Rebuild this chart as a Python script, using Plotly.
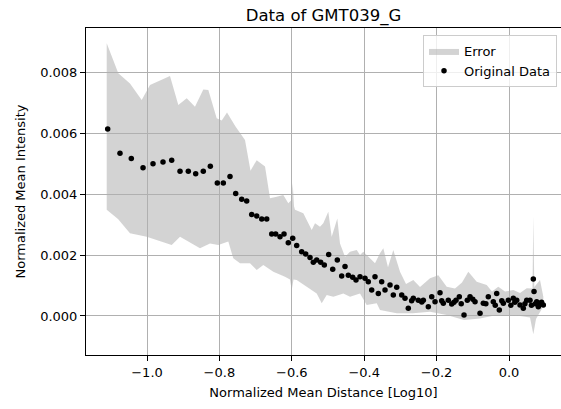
import plotly.graph_objects as go

# ---- data ----
dist = [-1.1086, -1.0746, -1.0434, -1.0110, -0.9834, -0.9558, -0.9318, -0.9088, -0.8859, -0.8655,
        -0.8445, -0.8251, -0.8058, -0.7892, -0.7707, -0.7550, -0.7384, -0.7246, -0.7108, -0.6970,
        -0.6831, -0.6693, -0.6555, -0.6445, -0.6326, -0.6215, -0.6097, -0.5975, -0.5865, -0.5727,
        -0.5616, -0.5497, -0.5406, -0.5312, -0.5202, -0.5102, -0.4981, -0.4870, -0.4743, -0.4622,
        -0.4530, -0.4439, -0.4318, -0.4227, -0.4116, -0.3978, -0.3887, -0.3793, -0.3702, -0.3610,
        -0.3517, -0.3425, -0.3287, -0.3196, -0.3102, -0.2964, -0.2873, -0.2782, -0.2690, -0.2644,
        -0.2506, -0.2410, -0.2367, -0.2229, -0.2135, -0.2044, -0.1906, -0.1860, -0.1815, -0.1677,
        -0.1583, -0.1520, -0.1464, -0.1373, -0.1320, -0.1243, -0.1152, -0.1077, -0.1000, -0.0939,
        -0.0801, -0.0710, -0.0640, -0.0572, -0.0434, -0.0380, -0.0340, -0.0268, -0.0200, -0.0157,
        -0.0019, 0.0050, 0.0119, 0.0160, 0.0213, 0.0304, 0.0395, 0.0440, 0.0489, 0.0580,
        0.0620, 0.0671, 0.0691, 0.0730, 0.0765, 0.0810, 0.0856, 0.0900, 0.0948]
intensity = [0.00613, 0.00534, 0.00516, 0.00486, 0.00499, 0.00505, 0.00511, 0.00475, 0.00475, 0.00466,
             0.00475, 0.00491, 0.00436, 0.00436, 0.00457, 0.00402, 0.00383, 0.00377, 0.00333, 0.00328,
             0.00318, 0.00318, 0.00269, 0.00269, 0.00260, 0.00269, 0.00240, 0.00255, 0.00231, 0.00211,
             0.00203, 0.00192, 0.00176, 0.00184, 0.00176, 0.00167, 0.00202, 0.00153, 0.00184, 0.00131,
             0.00162, 0.00134, 0.00127, 0.00118, 0.00129, 0.00124, 0.00112, 0.00085, 0.00129, 0.00074,
             0.00112, 0.00085, 0.00102, 0.00069, 0.00094, 0.00069, 0.00058, 0.00025, 0.00050, 0.00058,
             0.00052, 0.00046, 0.00052, 0.00030, 0.00063, 0.00047, 0.00076, 0.00050, 0.00042, 0.00052,
             0.00039, 0.00045, 0.00052, 0.00063, 0.00040, 0.00003, 0.00052, 0.00063, 0.00055, 0.00047,
             0.00009, 0.00042, 0.00040, 0.00063, 0.00047, 0.00035, 0.00074, 0.00020, 0.00050, 0.00042,
             0.00052, 0.00035, 0.00058, 0.00045, 0.00052, 0.00036, 0.00025, 0.00040, 0.00052, 0.00052,
             0.00035, 0.00121, 0.00080, 0.00040, 0.00047, 0.00030, 0.00042, 0.00045, 0.00036]

err_upper_x = [-1.1113, -1.0793, -1.0470, -1.0146, -0.9917, -0.9365, -0.9135, -0.8903, -0.8674, -0.8445,
               -0.8306, -0.8075, -0.7936, -0.7790, -0.7555, -0.7293, -0.7141, -0.6970, -0.6740, -0.6602,
               -0.6417, -0.6235, -0.6097, -0.6008, -0.5975, -0.5939, -0.5912, -0.5682, -0.5450, -0.5359,
               -0.5221, -0.5130, -0.4992, -0.4898, -0.4743, -0.4669, -0.4530, -0.4392, -0.4207, -0.4116,
               -0.4025, -0.3887, -0.3702, -0.3564, -0.3472, -0.3343, -0.3196, -0.3011, -0.2845, -0.2644,
               -0.2459, -0.2182, -0.1953, -0.1721, -0.1492, -0.1298, -0.1124, -0.0892, -0.0616, -0.0470,
               -0.0296, -0.0110, 0.0119, 0.0304, 0.0489, 0.0649, 0.0671, 0.0699, 0.0856, 0.0948]
err_upper = [0.00894, 0.00796, 0.00762, 0.00708, 0.00757, 0.00787, 0.00692, 0.00714, 0.00686, 0.00743,
             0.00741, 0.00648, 0.00641, 0.00667, 0.00621, 0.00577, 0.00476, 0.00511, 0.00490, 0.00386,
             0.00391, 0.00397, 0.00370, 0.00380, 0.00435, 0.00360, 0.00348, 0.00337, 0.00282, 0.00304,
             0.00293, 0.00304, 0.00342, 0.00260, 0.00320, 0.00238, 0.00194, 0.00211, 0.00216, 0.00200,
             0.00211, 0.00194, 0.00173, 0.00206, 0.00222, 0.00160, 0.00216, 0.00145, 0.00105, 0.00118,
             0.00095, 0.00124, 0.00134, 0.00096, 0.00090, 0.00110, 0.00145, 0.00112, 0.00102, 0.00080,
             0.00096, 0.00080, 0.00085, 0.00075, 0.00091, 0.00090, 0.00326, 0.00095, 0.00118, 0.00063]

err_lower_x = [-1.1113, -1.0801, -1.0470, -1.0008, -0.9732, -0.9318, -0.9088, -0.8859, -0.8536, -0.8260,
               -0.8030, -0.7754, -0.7616, -0.7431, -0.7155, -0.6970, -0.6787, -0.6511, -0.6188, -0.6050,
               -0.6003, -0.5953, -0.5865, -0.5589, -0.5312, -0.5174, -0.5036, -0.4853, -0.4577, -0.4392,
               -0.4116, -0.3931, -0.3655, -0.3564, -0.3102, -0.2652, -0.2182, -0.1721, -0.1243, -0.0801,
               -0.0340, 0.0119, 0.0580, 0.0671, 0.0746, 0.0939]
err_lower = [0.00348, 0.00318, 0.00271, 0.00260, 0.00249, 0.00233, 0.00260, 0.00244, 0.00222, 0.00238,
             0.00233, 0.00244, 0.00189, 0.00173, 0.00173, 0.00151, 0.00167, 0.00145, 0.00129, 0.00120,
             0.00085, 0.00120, 0.00118, 0.00096, 0.00074, 0.00042, 0.00069, 0.00063, 0.00074, 0.00063,
             0.00074, 0.00036, 0.00042, 0.00020, 0.00009, 0.00009, 0.00014, 0.00003, -0.00013, -0.00008,
             0.00003, 0.00003, -0.00005, -0.00060, -0.00010, 0.00030]

x_ticks = [-1.0, -0.8, -0.6, -0.4, -0.2, 0.0]
y_ticks = [0.000, 0.002, 0.004, 0.006, 0.008]

FONT = "DejaVu Sans"

fig = go.Figure()
fig.add_trace(go.Scatter(
    x=err_upper_x + err_lower_x[::-1],
    y=err_upper + err_lower[::-1],
    fill="toself", fillcolor="rgba(176,176,176,0.557)",
    line=dict(width=0), mode="lines", name="Error", hoverinfo="skip"))
fig.add_trace(go.Scatter(
    x=dist, y=intensity, mode="markers", name="Original Data",
    marker=dict(color="black", size=5.5, line=dict(width=0))))

fig.update_layout(
    width=561, height=409,
    margin=dict(l=86, r=0, t=28, b=54),
    paper_bgcolor="white", plot_bgcolor="white",
    font=dict(family=FONT, size=13, color="black"),
    title=dict(text="Data of GMT039_G", font=dict(family=FONT, size=16.5, color="black"),
               x=0.5, xref="paper", xanchor="center",
               y=1 - 15 / 409, yref="container", yanchor="middle"),
    legend=dict(x=0.9916, y=0.9786, xanchor="right", yanchor="top",
                bgcolor="rgba(255,255,255,0.8)", bordercolor="#cccccc", borderwidth=1,
                font=dict(family=FONT, size=13, color="black"), itemwidth=30,
                tracegroupgap=2),
    showlegend=True,
)
fig.update_xaxes(
    range=[-1.1685, 0.1436], tickvals=x_ticks, tickformat=".1f",
    showgrid=True, gridcolor="#b0b0b0", gridwidth=1, zeroline=False,
    showline=True, linecolor="black", linewidth=1, mirror=True,
    ticks="outside", ticklen=5, tickcolor="black", tickwidth=1,
    title=dict(text="Normalized Mean Distance [Log10]", standoff=9,
               font=dict(family=FONT, size=13, color="black")))
fig.update_yaxes(
    range=[-0.001279, 0.009443], tickvals=y_ticks, tickformat=".3f",
    showgrid=True, gridcolor="#b0b0b0", gridwidth=1, zeroline=False,
    showline=True, linecolor="black", linewidth=1, mirror=False,
    ticks="outside", ticklen=5, tickcolor="black", tickwidth=1,
    title=dict(text="Normalized Mean Intensity", standoff=11,
               font=dict(family=FONT, size=13, color="black")))

fig.write_html("out.html")
